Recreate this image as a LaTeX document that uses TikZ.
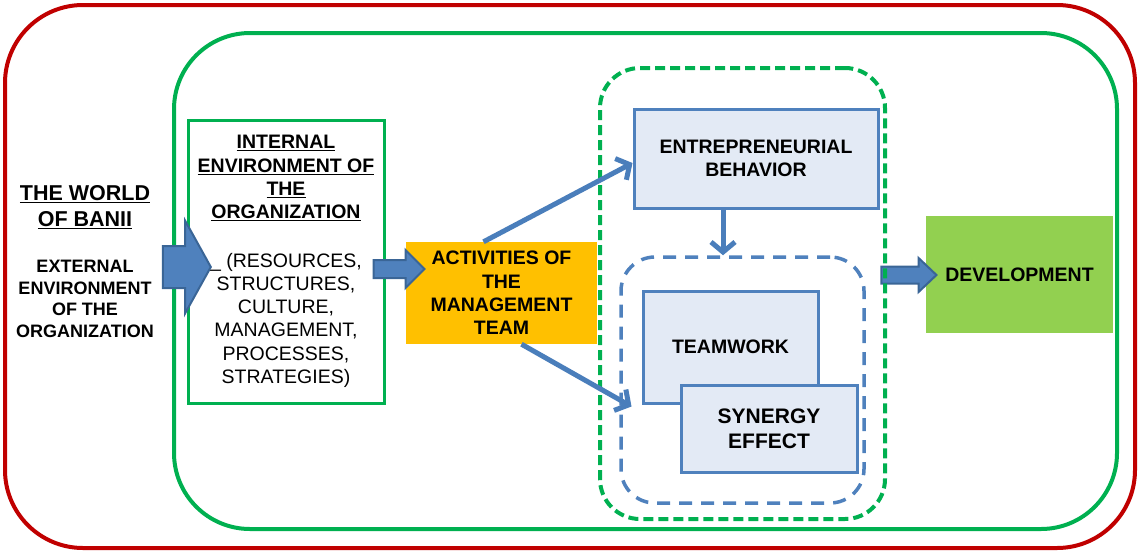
\documentclass[tikz,border=0pt]{standalone}
\usepackage{fontspec}
\setmainfont{Liberation Sans}
\usetikzlibrary{shapes.arrows,arrows.meta}

\definecolor{frameRed}{HTML}{C00000}
\definecolor{frameGreen}{HTML}{00B050}
\definecolor{officeBlue}{HTML}{4F81BD}
\definecolor{darkBlue}{HTML}{3A6596}
\definecolor{linkBlue}{HTML}{4A7EBB}
\definecolor{paleBlue}{HTML}{E3EAF5}
\definecolor{teamOrange}{HTML}{FFC000}
\definecolor{devGreen}{HTML}{92D050}

\begin{document}
\begin{tikzpicture}[x=1pt, y=-1pt,
    % Define styles
    zone/.style={rectangle, draw, line width=4pt, inner sep=0pt},
    heading/.style={align=center, font=\bfseries\fontsize{19.5}{23.3}\selectfont},
    blockbox/.style={rectangle, draw=officeBlue, fill=paleBlue, line width=3pt, heading},
    fatarrow/.style={single arrow, draw=darkBlue, fill=officeBlue, line width=2pt, inner sep=0pt},
    link/.style={draw=linkBlue, line width=5pt, -{Straight Barb[length=10pt,width=24pt]}}
]
\useasboundingbox (0,0) rectangle (1140,552);

% Outer frames
\node[zone, draw=frameRed, rounded corners=78pt, minimum width=1130pt, minimum height=543pt] (world) at (570,276.5) {};
\node[zone, draw=frameGreen, rounded corners=76pt, minimum width=943pt, minimum height=496pt] (org) at (645.5,281) {};

% Left labels
\node[heading, font=\bfseries\fontsize{21.5}{25.7}\selectfont] (worldlbl) at (85,207) {\underline{THE WORLD}\\\underline{OF BANII}};
\node[heading, font=\bfseries\fontsize{18}{21.7}\selectfont] (extlbl) at (85,299) {EXTERNAL\\ENVIRONMENT\\OF THE\\ORGANIZATION};

% Internal environment
\node[rectangle, draw=frameGreen, line width=3pt, minimum width=196pt, minimum height=283pt, align=center, font=\fontsize{19.5}{23.3}\selectfont] (ie) at (286,261.5)
    {\underline{\textbf{INTERNAL}}\\\underline{\textbf{ENVIRONMENT OF}}\\\underline{\textbf{THE}}\\\underline{\textbf{ORGANIZATION}}\\[25pt]
     \_ (RESOURCES,\\STRUCTURES,\\CULTURE,\\MANAGEMENT,\\PROCESSES,\\STRATEGIES)};

% Management team
\node[rectangle, fill=teamOrange, minimum width=191pt, minimum height=102pt, heading] (act) at (501.5,293) {ACTIVITIES OF\\THE\\MANAGEMENT\\TEAM};

% Development
\node[rectangle, fill=devGreen, minimum width=187pt, minimum height=117pt, heading] (dev) at (1019.5,274.5) {DEVELOPMENT};
\node[fatarrow, minimum height=55pt, minimum width=32pt, inner ysep=7.5pt, single arrow head extend=8.5pt, single arrow tip angle=87] (todev) at (904.5,275) {};

% Dashed frames
\node[zone, draw=frameGreen, dash pattern=on 10pt off 5pt, rounded corners=40pt, minimum width=285pt, minimum height=451pt] (mgmt) at (742.5,293.5) {};
\node[zone, draw=officeBlue, line width=3.5pt, dash pattern=on 13pt off 9pt, rounded corners=34pt, minimum width=243pt, minimum height=246pt] (synzone) at (742.5,380) {};

% Boxes inside
\node[blockbox, minimum width=244pt, minimum height=99pt] (ent) at (756,158.5) {ENTREPRENEURIAL\\BEHAVIOR};
\node[blockbox, minimum width=175pt, minimum height=112pt] (team) at (730.5,347) {TEAMWORK};
\node[blockbox, minimum width=176pt, minimum height=87pt, font=\bfseries\fontsize{21}{25}\selectfont] (syn) at (769,428.5) {SYNERGY\\EFFECT};

% Block arrows
\node[fatarrow, minimum height=48pt, minimum width=91pt, inner ysep=20pt, single arrow head extend=25.5pt, single arrow tip angle=122] (enter) at (181,267) {};
\node[fatarrow, minimum height=51pt, minimum width=36pt, inner ysep=8pt, single arrow head extend=10pt, single arrow tip angle=90] (toact) at (394.5,269) {};

% Links
\draw[link] ([xshift=-18pt]act.north) -- ([yshift=-4.5pt]ent.west);
\draw[link] ([xshift=20pt]act.south) -- ([xshift=-10pt,yshift=-2pt]team.south west);
\draw[link] ([xshift=-33pt]ent.south) -- ([xshift=-33pt]ent.south |- synzone.north);

\end{tikzpicture}
\end{document}
